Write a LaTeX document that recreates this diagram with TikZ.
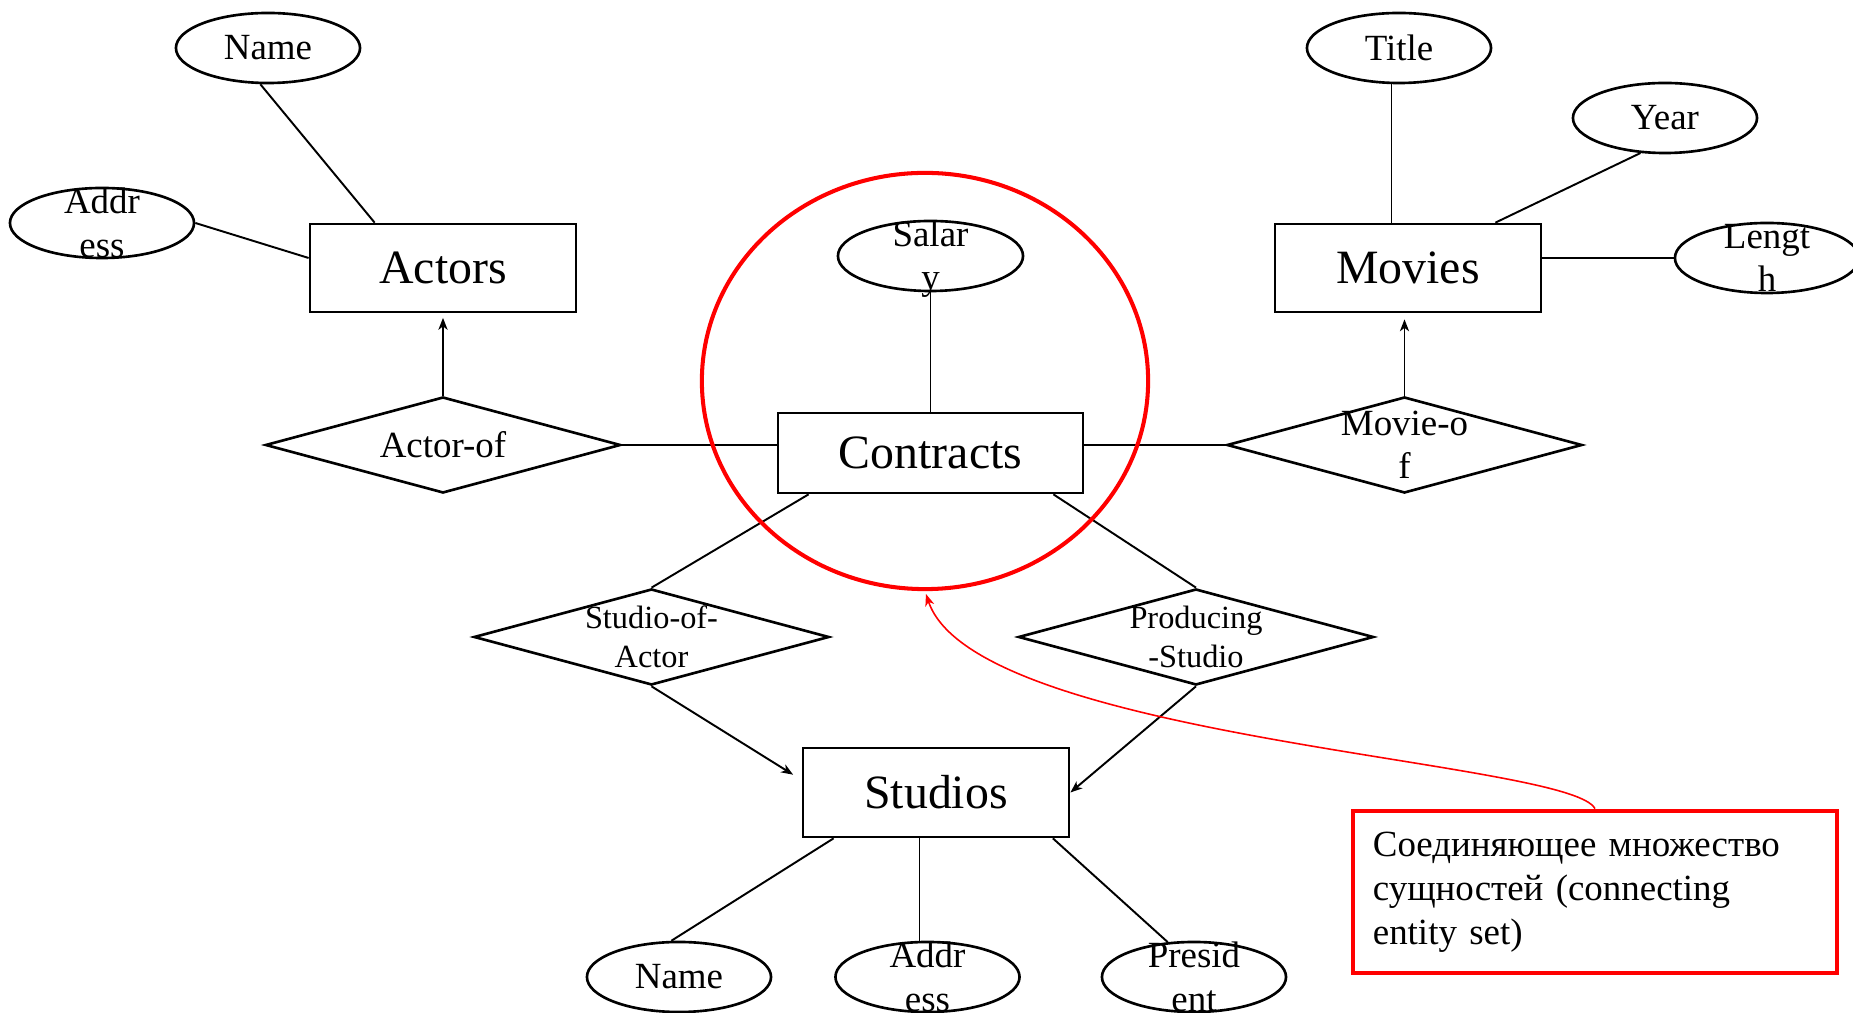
\documentclass[tikz,border=0pt]{standalone}
\usepackage{fontspec}
\setmainfont{Liberation Serif}
\usetikzlibrary{shapes.geometric,arrows.meta}
\definecolor{hlred}{RGB}{255,0,0}
\begin{document}
\begin{tikzpicture}[x=0.01cm,y=-0.01cm,
  attr/.style={draw,ellipse,minimum width=1.84cm,minimum height=0.70cm,inner sep=0pt,line width=0.75pt},
  atext/.style={font=\fontsize{10.5}{12.3}\selectfont,align=center,inner sep=0pt},
  stext/.style={font=\fontsize{9.2}{11.1}\selectfont,align=center,inner sep=0pt},
  entity/.style={draw,rectangle,minimum width=2.66cm,minimum height=0.88cm,inner sep=0pt,line width=0.75pt,font=\fontsize{13.6}{16}\selectfont},
  rel/.style={draw,diamond,minimum width=3.55cm,minimum height=0.96cm,inner sep=0pt,line width=0.75pt},
  conn/.style={line width=0.55pt},
  arr/.style={conn,-{Stealth[length=3.4pt,width=2.6pt,inset=1pt]}},
  hlshape/.style={draw=hlred,ellipse,line width=1.15pt,inner sep=0pt,minimum width=4.46cm,minimum height=4.16cm},
  notebox/.style={draw=hlred,rectangle,line width=1.3pt,minimum width=4.84cm,minimum height=1.62cm,inner xsep=0.2cm,inner ysep=0pt,text width=4.44cm,align=left,font=\fontsize{10.5}{12.5}\selectfont},
  redarr/.style={draw=hlred,line width=0.45pt,-{Stealth[length=3.4pt,width=2.6pt,inset=1pt]}}]
\useasboundingbox (0,0) rectangle (1853,1013);

% entities
\node[entity] (actors) at (443,268) {Actors};
\node[entity,minimum width=3.05cm,minimum height=0.80cm] (contracts) at (930.5,453) {Contracts};
\node[entity] (movies) at (1408,268) {Movies};
\node[entity,minimum height=0.89cm] (studios) at (936,792.5) {Studios};

% attributes
\node[attr] (aname) at (268,48) {};
\node[atext] (anamet) at (aname) {Name};
\node[attr] (aaddr) at (102,223) {};
\node[atext] (aaddrt) at (aaddr) {Addr\\ess};
\node[attr,minimum width=1.85cm] (salary) at (930.5,256) {};
\node[atext] (salaryt) at ([yshift=-0.03cm]salary.center) {Salar\\y};
\node[attr] (title) at (1399,48) {};
\node[atext] (titlet) at (title) {Title};
\node[attr] (year) at (1665,118) {};
\node[atext] (yeart) at (year) {Year};
\node[attr] (length) at (1767,258) {};
\node[atext] (lengtht) at (length) {Lengt\\h};
\node[attr] (sname) at (679,977) {};
\node[atext] (snamet) at (sname) {Name};
\node[attr] (saddr) at (927.5,977) {};
\node[atext] (saddrt) at (saddr) {Addr\\ess};
\node[attr] (pres) at (1194,977) {};
\node[atext] (prest) at (pres) {Presid\\ent};

% relationships
\node[rel] (actorof) at (443,445) {};
\node[atext] (actoroft) at (actorof) {Actor-of};
\node[rel] (movieof) at (1404.5,445) {};
\node[atext] (movieoft) at (movieof) {Movie-o\\f};
\node[rel] (soa) at (651.5,637) {};
\node[stext] (soat) at (soa) {Studio-of-\\Actor};
\node[rel] (ps) at (1196,637) {};
\node[stext] (pst) at (ps) {Producing\\-Studio};

% connectors
\draw[conn] (aname.-102) -- ([xshift=0.66cm]actors.north west);
\draw[conn] (aaddr.east) -- ([yshift=0.1cm]actors.west);
\draw[arr,shorten >=0.045cm] (actorof.north) -- (actorof.north |- actors.south);
\draw[conn] (actorof.east) -- (actorof.east -| contracts.west);
\draw[conn] (salary.south) -- (contracts.north);
\draw[conn] (contracts.east |- movieof.west) -- (movieof.west);
\draw[arr,shorten >=0.06cm] (movieof.north) -- (movieof.north |- movies.south);
\draw[conn] ([xshift=-0.075cm]title.south) -- ([xshift=-0.075cm]title.south |- movies.north);
\draw[conn] (year.-125) -- ([xshift=-0.47cm]movies.north east);
\draw[conn] (length.west) -- (length.west -| movies.east);
\draw[conn] ([xshift=0.32cm]contracts.south west) -- (soa.north);
\draw[conn] ([xshift=-0.31cm]contracts.south east) -- (ps.north);
\draw[arr,shorten >=0.1cm] (soa.south) -- ([yshift=0.125cm]studios.west);
\draw[arr] (ps.south) -- (studios.east);
\draw[conn] ([xshift=0.32cm]studios.south west) -- (sname.102);
\draw[conn] ([xshift=-0.08cm]saddr.north) -- ([xshift=-0.08cm]saddr.north |- studios.south);
\draw[conn] ([xshift=-0.175cm]studios.south east) -- (pres.127);

% highlight
\node[hlshape] (hl) at (925,381) {};
\node[notebox] (note) at (1595,892) {Соединяющее множество\\сущностей (connecting\\entity set)};
\draw[redarr,shorten >=0.03cm] (note.north) .. controls (1570,760) and (975,740) .. (hl.south);
\end{tikzpicture}
\end{document}
